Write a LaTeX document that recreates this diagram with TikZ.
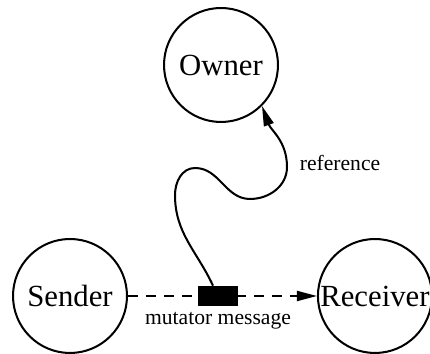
\documentclass[tikz,border=0pt]{standalone}
\usepackage{fontspec}
\setmainfont{Liberation Serif}
\usetikzlibrary{arrows.meta}

\begin{document}
\begin{tikzpicture}[x=0.02cm,y=0.02cm,node distance=6.1cm]
\tikzstyle{agent}=[draw,circle,line width=1.15pt,minimum size=2.28cm,inner sep=0pt,font=\fontsize{17.5}{20}\selectfont]
\tikzstyle{lbl}=[font=\fontsize{12.3}{14}\selectfont]
\tikzstyle{tip}=[-{Triangle[length=0.4cm,width=0.2cm]}]

\useasboundingbox (0,0) rectangle (430,354);

\node [agent] (s) at (70,58) {Sender};
\node [agent,right of=s] (r) {Receiver};
\node [agent] (o) at (221,289) {Owner};

\draw[tip,line width=1.15pt,dash pattern=on 0.2cm off 0.16cm]
    (s) -- (r);

\node [fill,minimum width=0.8cm,minimum height=0.4cm,inner sep=0pt] (m) at (218,58) {};
\node [lbl,below of=m,node distance=0.5cm] (ml) {mutator message};

\draw[tip,line width=1.15pt]
    ([xshift=-0.1cm]m.north) to[out=115,in=-90] (175,159)
    to[out=90,in=180] (195,186) to[out=0,in=180] (250,155)
    to[out=0,in=-90] (287,187) to[out=90,in=-70] (o.-45);

\node [lbl] (ref) at (340,191) {reference};

\end{tikzpicture}
\end{document}
